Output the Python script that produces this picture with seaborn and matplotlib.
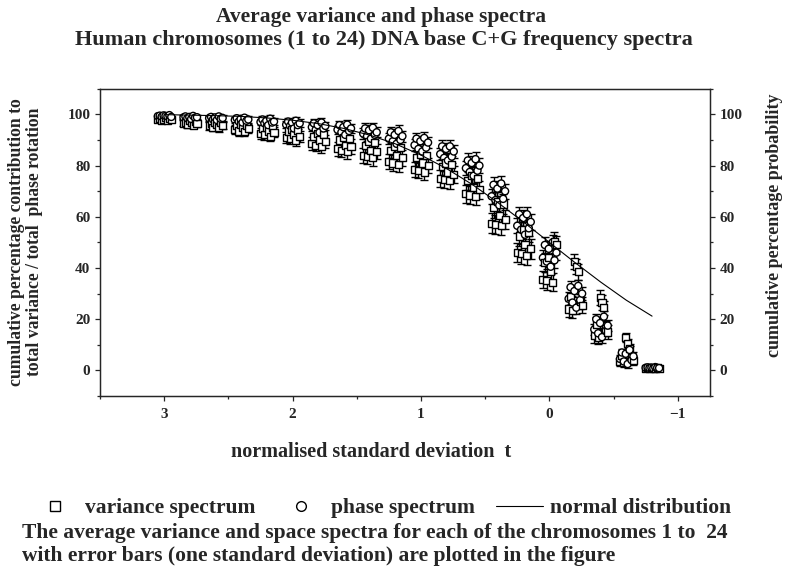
import numpy as np
import pandas as pd
import matplotlib
matplotlib.use('Agg')
import matplotlib.pyplot as plt
from matplotlib.lines import Line2D
from matplotlib.ticker import MultipleLocator
import seaborn as sns

# normalised standard deviation t of each cluster
t_values = [3.0, 2.8, 2.6, 2.4, 2.2, 2.0, 1.8, 1.6, 1.4, 1.2,
            1.0, 0.8, 0.6, 0.4, 0.2, 0.0, -0.2, -0.4, -0.6, -0.8]

# small spread of the chromosomes around each t
chrom_offset = [0.05, 0.035, 0.02, 0.005, -0.01, -0.025, -0.04, -0.055]

# cumulative % variance spectrum (squares), one row per t
variance = [
    [98.0, 98.5, 97.8, 98.2, 98.6, 97.6, 98.3, 98.1],
    [96.5, 97.0, 96.0, 97.5, 96.8, 95.8, 97.2, 96.3],
    [95.5, 96.5, 95.0, 97.0, 96.0, 94.8, 96.8, 95.7],
    [94.0, 95.5, 93.5, 96.0, 94.8, 93.2, 95.8, 94.5],
    [92.5, 94.5, 92.0, 95.0, 93.5, 91.5, 94.8, 93.0],
    [91.0, 93.5, 90.5, 94.0, 92.0, 90.0, 93.8, 91.5],
    [88.5, 91.5, 88.0, 92.5, 90.0, 87.5, 92.0, 89.5],
    [86.5, 90.0, 86.0, 91.0, 88.0, 85.5, 90.5, 87.5],
    [84.0, 88.0, 83.5, 89.5, 86.0, 83.0, 89.0, 85.5],
    [81.5, 86.0, 81.0, 87.5, 84.0, 80.5, 87.0, 83.0],
    [78.5, 83.0, 78.0, 84.5, 81.0, 77.5, 84.0, 80.0],
    [75.0, 79.5, 74.5, 81.0, 77.5, 74.0, 80.5, 76.5],
    [69.0, 74.0, 68.5, 76.0, 71.5, 68.0, 75.0, 70.5],
    [57.5, 63.5, 57.0, 66.0, 60.5, 56.5, 65.0, 59.0],
    [46.0, 52.5, 45.5, 55.0, 49.0, 45.0, 54.0, 47.5],
    [35.5, 42.0, 35.0, 44.0, 38.5, 34.5, 50.5, 49.0],
    [24.0, 29.0, 23.5, 42.5, 40.5, 38.5, 27.0, 25.5],
    [13.5, 18.0, 13.0, 28.5, 26.5, 24.5, 16.5, 15.0],
    [3.5, 6.0, 3.0, 13.0, 10.5, 8.5, 5.0, 4.0],
    [0.8, 1.0, 0.7, 1.2, 0.9, 0.6, 1.1, 0.8],
]

# cumulative % phase spectrum (circles)
phase = [
    [99.3, 99.5, 99.1, 99.6, 99.4, 99.2, 99.7, 99.0],
    [98.8, 99.2, 98.5, 99.0, 98.2, 99.4, 98.7, 98.9],
    [98.5, 99.0, 98.0, 98.8, 97.8, 99.2, 98.3, 98.6],
    [97.8, 98.5, 97.2, 98.2, 96.8, 98.7, 97.5, 98.0],
    [97.0, 98.0, 96.5, 97.5, 95.8, 98.3, 96.8, 97.2],
    [96.0, 97.2, 95.5, 96.8, 94.5, 97.5, 95.8, 96.5],
    [95.0, 96.5, 94.0, 95.8, 93.0, 96.8, 94.5, 95.5],
    [94.0, 95.8, 93.0, 95.0, 92.0, 96.0, 93.5, 94.5],
    [92.5, 94.5, 91.5, 93.8, 90.5, 94.8, 92.0, 93.0],
    [90.5, 93.0, 89.5, 92.0, 88.5, 93.5, 90.0, 91.5],
    [88.0, 90.5, 86.5, 89.5, 85.5, 90.8, 87.0, 89.0],
    [84.5, 87.5, 83.0, 86.5, 82.0, 87.5, 83.5, 85.5],
    [79.0, 82.0, 77.5, 81.0, 76.0, 82.5, 78.0, 80.0],
    [68.0, 72.5, 66.5, 71.0, 64.5, 73.0, 67.0, 70.0],
    [56.5, 61.0, 55.0, 59.5, 53.0, 61.0, 55.5, 58.0],
    [44.0, 49.0, 42.5, 47.5, 40.5, 50.0, 43.0, 46.0],
    [28.0, 32.5, 26.5, 31.0, 24.5, 33.0, 27.5, 30.0],
    [16.0, 20.0, 14.5, 18.5, 13.0, 21.0, 15.5, 17.5],
    [4.5, 7.0, 3.5, 6.5, 2.5, 8.0, 4.0, 5.5],
    [1.0, 1.2, 0.9, 1.1, 0.8, 1.3, 1.0, 0.9],
]

# one standard deviation error bars
variance_sd = [0.8, 1.2, 1.5, 1.8, 2.0, 2.2, 2.5, 2.8, 3.0, 3.0,
               3.0, 3.2, 3.5, 3.8, 3.8, 3.5, 3.0, 2.8, 1.8, 0.5]
phase_sd = [0.5, 0.8, 1.0, 1.2, 1.3, 1.5, 1.6, 1.8, 2.0, 2.2,
            2.2, 2.5, 2.8, 3.0, 3.0, 3.0, 2.5, 2.2, 1.5, 0.4]

# normal distribution, cumulative % probability
normal_pct = [99.9, 99.7, 99.5, 99.2, 98.6, 97.7, 96.4, 94.5, 91.9, 88.5,
              84.1, 78.8, 72.6, 65.5, 57.9, 50.0, 42.1, 34.5, 27.4, 21.2]

rows = []
for i, t in enumerate(t_values):
    for j, off in enumerate(chrom_offset):
        rows.append({'t': t + off, 'pct': variance[i][j], 'sd': variance_sd[i], 'spectrum': 'variance'})
        rows.append({'t': t + off, 'pct': phase[i][j], 'sd': phase_sd[i], 'spectrum': 'phase'})
df = pd.DataFrame(rows)
normal_df = pd.DataFrame({'t': t_values, 'pct': normal_pct})

sns.set_style('ticks')
plt.rcParams['font.family'] = ['Liberation Serif', 'DejaVu Serif']
plt.rcParams['font.weight'] = 'bold'

fig = plt.figure(figsize=(7.94, 5.69), dpi=100)
ax = fig.add_axes([0.126, 0.304, 0.768, 0.54])

ax.errorbar(df['t'], df['pct'], yerr=df['sd'], fmt='none', ecolor='black',
            elinewidth=1.0, capsize=3, capthick=1.0, zorder=2)
sns.scatterplot(data=df, x='t', y='pct', style='spectrum',
                markers={'variance': 's', 'phase': 'o'}, color='white',
                edgecolor='black', linewidth=1.0, s=26, legend=False,
                ax=ax, zorder=3)
sns.lineplot(data=normal_df, x='t', y='pct', color='black', linewidth=0.8,
             ax=ax, zorder=4)

ax.set_xlim(3.5, -1.25)
ax.set_ylim(-10, 110)
ax.xaxis.set_major_locator(MultipleLocator(1))
ax.xaxis.set_minor_locator(MultipleLocator(0.5))
ax.yaxis.set_minor_locator(MultipleLocator(10))
ax.set_yticks([0, 20, 40, 60, 80, 100])
ax.set_xlabel('')
ax.set_ylabel('')
ax.tick_params(which='both', direction='out', labelsize=11, width=0.9)
ax.tick_params(axis='x', pad=5)
for lab in ax.get_xticklabels() + ax.get_yticklabels():
    lab.set_fontweight('bold')
for sp in ax.spines.values():
    sp.set_linewidth(1.0)
    sp.set_visible(True)

ax2 = ax.twinx()
ax2.set_ylim(-10, 110)
ax2.set_yticks([0, 20, 40, 60, 80, 100])
ax2.yaxis.set_minor_locator(MultipleLocator(10))
ax2.tick_params(which='both', direction='out', labelsize=11, width=0.9)
for lab in ax2.get_yticklabels():
    lab.set_fontweight('bold')

fig.text(0.48, 0.97, 'Average variance and phase spectra', ha='center', va='center',
         fontsize=15.5)
fig.text(0.484, 0.929, 'Human chromosomes (1 to 24) DNA base C+G frequency spectra',
         ha='center', va='center', fontsize=16)
fig.text(0.032, 0.575, 'cumulative percentage contribution to\ntotal variance / total  phase rotation',
         ha='center', va='center', rotation=90, fontsize=12.7, linespacing=1.1)
fig.text(0.976, 0.605, 'cumulative percentage probability', ha='center', va='center',
         rotation=90, fontsize=13)
fig.text(0.468, 0.205, 'normalised standard deviation  t', ha='center', va='center',
         fontsize=14.5)

handles = [
    Line2D([], [], marker='s', color='none', markerfacecolor='white',
           markeredgecolor='black', markersize=7),
    Line2D([], [], marker='o', color='none', markerfacecolor='white',
           markeredgecolor='black', markersize=7),
    Line2D([], [], color='black', linewidth=0.8),
]
fig.legend(handles, ['variance spectrum', 'phase spectrum', 'normal distribution'],
           loc='center', bbox_to_anchor=(0.48, 0.107), ncol=3, frameon=False,
           prop={'size': 15.5, 'weight': 'bold'}, handlelength=2.2,
           columnspacing=1.0, handletextpad=0.3)

fig.text(0.028, 0.063, 'The average variance and space spectra for each of the chromosomes 1 to  24',
         ha='left', va='center', fontsize=15.5)
fig.text(0.028, 0.023, 'with error bars (one standard deviation) are plotted in the figure',
         ha='left', va='center', fontsize=15.5)

fig.savefig('out.png', dpi=100)
